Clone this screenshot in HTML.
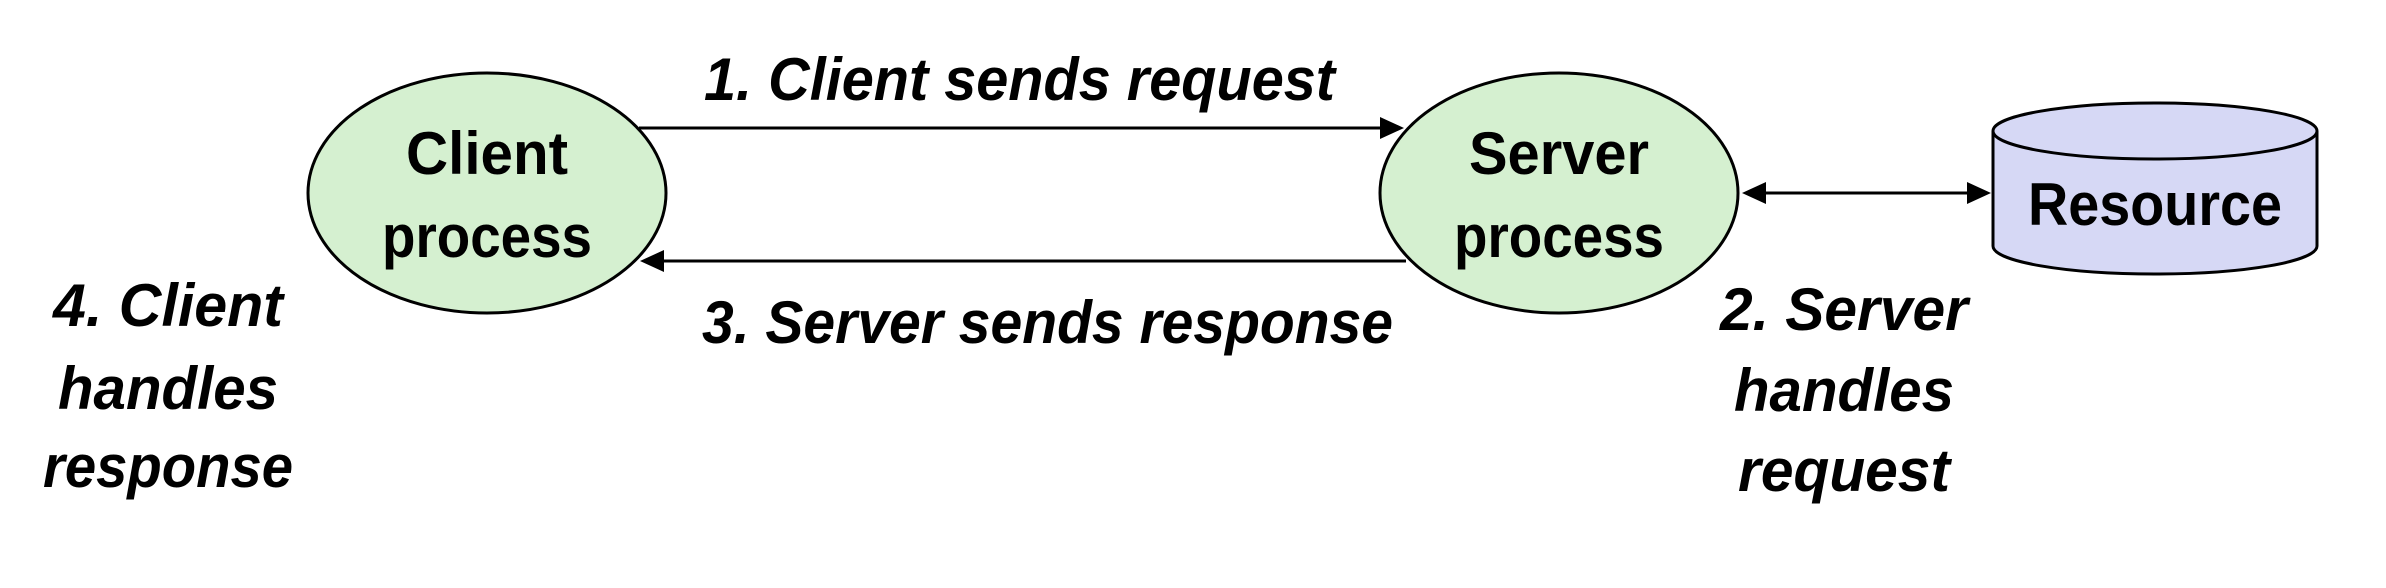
<!DOCTYPE html>
<html><head><meta charset="utf-8"><style>
html,body{margin:0;padding:0;background:#fff;}
svg{display:block;}
text{font-family:"Liberation Sans",sans-serif;font-weight:bold;fill:#000;}
.i{font-style:italic;font-size:60px;}
.n{font-size:60px;}
</style></head><body>
<svg width="2386" height="588" viewBox="0 0 2386 588" xmlns="http://www.w3.org/2000/svg">
<ellipse cx="487" cy="193" rx="179" ry="120" fill="#d5f0d0" stroke="#000" stroke-width="3"/>
<ellipse cx="1559" cy="193" rx="179" ry="120" fill="#d5f0d0" stroke="#000" stroke-width="3"/>
<path d="M1993,131 L1993,246 A162,28 0 0 0 2317,246 L2317,131" fill="#d6d8f5" stroke="#000" stroke-width="3"/>
<ellipse cx="2155" cy="131" rx="162" ry="28" fill="#d6d8f5" stroke="#000" stroke-width="3"/>
<line x1="639" y1="128" x2="1400" y2="128" stroke="#000" stroke-width="3"/>
<path d="M1380,117 L1404,128 L1380,139 z" fill="#000"/>
<line x1="1406" y1="261" x2="660" y2="261" stroke="#000" stroke-width="3"/>
<path d="M664,250 L640,261 L664,272 z" fill="#000"/>
<line x1="1760" y1="193" x2="1975" y2="193" stroke="#000" stroke-width="3"/>
<path d="M1766,182 L1742,193 L1766,204 z" fill="#000"/>
<path d="M1967,182 L1991,193 L1967,204 z" fill="#000"/>
<text class="i" x="704" y="100" textLength="631" lengthAdjust="spacingAndGlyphs">1. Client sends request</text>
<text class="i" x="702" y="343" textLength="691" lengthAdjust="spacingAndGlyphs">3. Server sends response</text>
<text class="n" x="487" y="174" text-anchor="middle" textLength="162" lengthAdjust="spacingAndGlyphs">Client</text>
<text class="n" x="487" y="257" text-anchor="middle" textLength="210" lengthAdjust="spacingAndGlyphs">process</text>
<text class="n" x="1559" y="174" text-anchor="middle" textLength="180" lengthAdjust="spacingAndGlyphs">Server</text>
<text class="n" x="1559" y="257" text-anchor="middle" textLength="210" lengthAdjust="spacingAndGlyphs">process</text>
<text class="n" x="2155" y="225" text-anchor="middle" textLength="254" lengthAdjust="spacingAndGlyphs">Resource</text>
<text class="i" x="168" y="326" text-anchor="middle" textLength="230" lengthAdjust="spacingAndGlyphs">4. Client</text>
<text class="i" x="168" y="409" text-anchor="middle" textLength="220" lengthAdjust="spacingAndGlyphs">handles</text>
<text class="i" x="168" y="487" text-anchor="middle" textLength="250" lengthAdjust="spacingAndGlyphs">response</text>
<text class="i" x="1844" y="330" text-anchor="middle" textLength="248" lengthAdjust="spacingAndGlyphs">2. Server</text>
<text class="i" x="1844" y="411" text-anchor="middle" textLength="220" lengthAdjust="spacingAndGlyphs">handles</text>
<text class="i" x="1844" y="491" text-anchor="middle" textLength="212" lengthAdjust="spacingAndGlyphs">request</text>
</svg>
</body></html>
